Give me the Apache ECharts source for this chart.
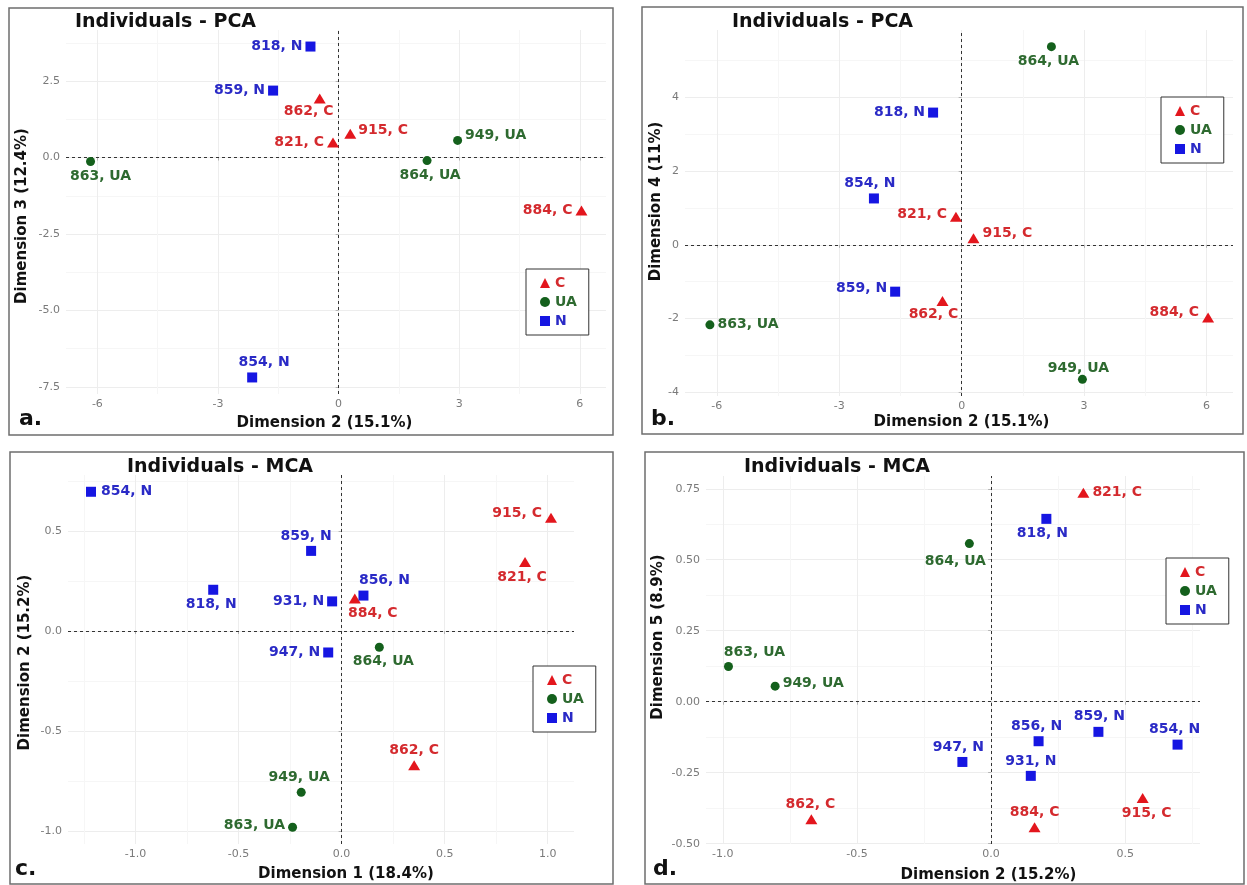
<!DOCTYPE html>
<html>
<head>
<meta charset="utf-8">
<script src="https://cdn.jsdelivr.net/npm/echarts@6/dist/echarts.min.js"></script>
<style>
html,body{margin:0;padding:0;background:#fff;}
#chart{width:1247px;height:885px;}
</style>
</head>
<body>
<div id="chart"></div>
<script>
// ---------------- DATA ----------------
const pcaIds   = ['818','821','854','859','862','863','864','884','915','949'];
const pcaGroup = ['N','C','N','N','C','UA','UA','C','C','UA'];
const pcaDim2  = [-0.70,-0.14,-2.15,-1.63,-0.47,-6.17, 2.20, 6.04, 0.29, 2.96];
const pcaDim3  = [ 3.63, 0.49,-7.19, 2.19, 1.93,-0.13,-0.10,-1.73, 0.78, 0.56];
const pcaDim4  = [ 3.59, 0.76, 1.26,-1.27,-1.52,-2.17, 5.38,-1.97, 0.18,-3.65];

const mcaIds   = ['818','821','854','856','859','862','863','864','884','915','931','947','949'];
const mcaGroup = ['N','C','N','N','N','C','UA','UA','C','C','N','N','UA'];
const mcaDim1  = [-0.623, 0.890,-1.216, 0.106,-0.148, 0.352,-0.238, 0.183, 0.064, 1.016,-0.046,-0.065,-0.196];
const mcaDim2  = [ 0.206, 0.344, 0.695, 0.177, 0.400,-0.670,-0.979,-0.081, 0.162, 0.565, 0.148,-0.107,-0.805];
const mcaDim5  = [ 0.644, 0.736,-0.151,-0.139,-0.106,-0.414, 0.124, 0.557,-0.442,-0.339,-0.261,-0.212, 0.055];

const groups = ['C','UA','N'];

// tick values (major / minor) per dimension
const pcaDim2Ticks = [-6,-3,0,3,6];
const pcaDim2Minor = [-4.5,-1.5,1.5,4.5];
const pcaDim3Ticks = [-7.5,-5,-2.5,0,2.5];
const pcaDim3Minor = [-6.25,-3.75,-1.25,1.25,3.75];
const pcaDim4Ticks = [-4,-2,0,2,4];
const pcaDim4Minor = [-3,-1,1,3,5];
const mcaDim1Ticks = [-1,-0.5,0,0.5,1];
const mcaDim1Minor = [-1.25,-0.75,-0.25,0.25,0.75];
const mcaDim2Ticks = [-1,-0.5,0,0.5];
const mcaDim2Minor = [-0.75,-0.25,0.25,0.75];
const mcaDim5Ticks = [-0.5,-0.25,0,0.25,0.5,0.75];
const mcaDim5Minor = [-0.375,-0.125,0.125,0.375,0.625];

// ---------------- STYLE / LAYOUT ----------------
const FONT = '"DejaVu Sans", sans-serif';
const markerColor = {C:'#e3161d', UA:'#14601c', N:'#1616e2'};
const textColor   = {C:'#d42a2e', UA:'#2e6a30', N:'#2a2ac6'};
const markerShape = {C:'triangle', UA:'circle', N:'rect'};
const markerSize  = {C:[12,10], UA:9, N:10};

// label placement per individual: [position, dx, dy]
const placeA = {'818':['left',0,0],'821':['left',0,0],'854':['top',12,0],'859':['left',0,0],'862':['bottom',-11,-2],
  '863':['bottom',10,0],'864':['bottom',3,0],'884':['left',0,0],'915':['right',-1,-3],'949':['right',0,-5]};
const placeB = {'818':['left',0,0],'821':['left',0,-3],'854':['top',-4,0],'859':['left',0,-3],'862':['bottom',-9,-2],
  '863':['right',0,0],'864':['bottom',-3,0],'884':['left',0,-5],'915':['right',0,-5],'949':['top',-4,3]};
const placeC = {'818':['bottom',-2,0],'821':['bottom',-3,0],'854':['right',2,0],'856':['top',21,0],'859':['top',-5,0],
  '862':['top',0,0],'863':['left',0,-2],'864':['bottom',4,0],'884':['bottom',18,0],'915':['left',0,-4],
  '931':['left',0,0],'947':['left',0,0],'949':['top',-2,0]};
const placeD = {'818':['bottom',-4,0],'821':['right',0,0],'854':['top',-3,0],'856':['top',-2,0],'859':['top',1,0],
  '862':['top',-1,0],'863':['top',26,0],'864':['bottom',-14,3],'884':['top',0,0],'915':['bottom',4,0],
  '931':['top',0,0],'947':['top',-4,0],'949':['right',0,-3]};

const panels = [
  {ids:pcaIds, grp:pcaGroup, x:pcaDim2, y:pcaDim3, xT:pcaDim2Ticks, xM:pcaDim2Minor, yT:pcaDim3Ticks, yM:pcaDim3Minor,
   xDec:0, yDec:1, xName:'Dimension 2 (15.1%)', yName:'Dimension 3 (12.4%)', title:'Individuals - PCA', letter:'a.',
   grid:{left:66, top:30, width:540, height:364}, place:placeA,
   xNameGap:22, xNamePad:[0,23,0,0], yNameGap:36, yNamePad:[0,8,0,0],
   titlePos:[75,13], legendPos:[526,269], letterPos:[19,419], frame:[9,8,604,427]},
  {ids:pcaIds, grp:pcaGroup, x:pcaDim2, y:pcaDim4, xT:pcaDim2Ticks, xM:pcaDim2Minor, yT:pcaDim4Ticks, yM:pcaDim4Minor,
   xDec:0, yDec:0, xName:'Dimension 2 (15.1%)', yName:'Dimension 4 (11%)', title:'Individuals - PCA', letter:'b.',
   grid:{left:685, top:30, width:548, height:366}, place:placeB,
   xNameGap:19, xNamePad:[0,0,0,5], yNameGap:21, yNamePad:[0,0,0,23],
   titlePos:[732,13], legendPos:[1161,97], letterPos:[651,419], frame:[642,7,601,427]},
  {ids:mcaIds, grp:mcaGroup, x:mcaDim1, y:mcaDim2, xT:mcaDim1Ticks, xM:mcaDim1Minor, yT:mcaDim2Ticks, yM:mcaDim2Minor,
   xDec:1, yDec:1, xName:'Dimension 1 (18.4%)', yName:'Dimension 2 (15.2%)', title:'Individuals - MCA', letter:'c.',
   grid:{left:68, top:475, width:506, height:369}, place:placeC,
   xNameGap:23, xNamePad:[0,0,0,50], yNameGap:35, yNamePad:[0,6,0,0],
   titlePos:[127,458], legendPos:[533,666], letterPos:[15,869], frame:[10,452,603,432]},
  {ids:mcaIds, grp:mcaGroup, x:mcaDim2, y:mcaDim5, xT:mcaDim2Ticks, xM:mcaDim2Minor, yT:mcaDim5Ticks, yM:mcaDim5Minor,
   xDec:1, yDec:2, xName:'Dimension 2 (15.2%)', yName:'Dimension 5 (8.9%)', title:'Individuals - MCA', letter:'d.',
   grid:{left:706, top:476, width:494, height:368}, place:placeD,
   xNameGap:24, xNamePad:[0,0,0,71], yNameGap:40, yNamePad:[0,0,0,46],
   titlePos:[744,458], legendPos:[1166,558], letterPos:[653,869], frame:[645,452,599,432]}
];

function expand(arr){
  const lo = Math.min(...arr), hi = Math.max(...arr), r = hi - lo;
  return [lo - 0.05*r, hi + 0.05*r];
}

const option = {
  animation:false,
  backgroundColor:'#fff',
  title:[], legend:[], grid:[], xAxis:[], yAxis:[], series:[], graphic:[]
};

const tickLabelStyle = {color:'#7a7a7a', fontSize:11, fontFamily:FONT};
const nameStyle = {fontFamily:FONT, fontWeight:'bold', fontSize:15, color:'#111'};

panels.forEach((p, i) => {
  option.grid.push(Object.assign({containLabel:false}, p.grid));
  const xr = expand(p.x), yr = expand(p.y);

  option.xAxis.push({
    type:'value', gridIndex:i, min:xr[0], max:xr[1], position:'bottom',
    axisLine:{show:false},
    axisTick:{show:true, length:3, lineStyle:{color:'#b5b5b5'}, customValues:p.xT},
    axisLabel:Object.assign({customValues:p.xT, margin:5, formatter:v => Number(v).toFixed(p.xDec)}, tickLabelStyle),
    splitLine:{show:true, lineStyle:{color:'#ededed', width:1}},
    name:p.xName, nameLocation:'middle', nameGap:p.xNameGap,
    nameTextStyle:Object.assign({padding:p.xNamePad}, nameStyle)
  });
  option.xAxis.push({
    type:'value', gridIndex:i, min:xr[0], max:xr[1], position:'top',
    axisLine:{show:false}, axisTick:{show:false, customValues:p.xM},
    axisLabel:{show:false, customValues:p.xM},
    splitLine:{show:true, lineStyle:{color:'#f6f6f6', width:1}}
  });
  option.yAxis.push({
    type:'value', gridIndex:i, min:yr[0], max:yr[1], position:'left',
    axisLine:{show:false},
    axisTick:{show:true, length:3, lineStyle:{color:'#b5b5b5'}, customValues:p.yT},
    axisLabel:Object.assign({customValues:p.yT, margin:6, formatter:v => Number(v).toFixed(p.yDec)}, tickLabelStyle),
    splitLine:{show:true, lineStyle:{color:'#ededed', width:1}},
    name:p.yName, nameLocation:'middle', nameGap:p.yNameGap, nameRotate:90,
    nameTextStyle:Object.assign({padding:p.yNamePad}, nameStyle)
  });
  option.yAxis.push({
    type:'value', gridIndex:i, min:yr[0], max:yr[1], position:'right',
    axisLine:{show:false}, axisTick:{show:false, customValues:p.yM},
    axisLabel:{show:false, customValues:p.yM},
    splitLine:{show:true, lineStyle:{color:'#f6f6f6', width:1}}
  });

  groups.forEach((g, gi) => {
    const data = [];
    const shifts = [];
    p.ids.forEach((id, k) => {
      if (p.grp[k] !== g) return;
      const pl = p.place[id] || ['right',0,0];
      data.push({name:id, value:[p.x[k], p.y[k]], label:{position:pl[0]}});
      shifts.push([pl[1], pl[2]]);
    });
    const s = {
      type:'scatter', name:g, xAxisIndex:2*i, yAxisIndex:2*i,
      symbol:markerShape[g], symbolSize:markerSize[g],
      itemStyle:{color:markerColor[g], opacity:1},
      label:{show:true, distance:3, formatter:prm => prm.name + ', ' + g,
             color:textColor[g], fontFamily:FONT, fontWeight:'bold', fontSize:14},
      labelLayout:(prm) => {
        const sh = shifts[prm.dataIndex] || [0,0];
        return {dx:sh[0], dy:sh[1], hideOverlap:false};
      },
      emphasis:{disabled:true},
      data:data, z:3
    };
    if (gi === 0) {
      s.markLine = {
        silent:true, symbol:['none','none'], label:{show:false},
        lineStyle:{type:[3,3], color:'#333', width:1},
        data:[{xAxis:0},{yAxis:0}], z:2
      };
    }
    option.series.push(s);
  });

  option.title.push({
    text:p.title, left:p.titlePos[0], top:p.titlePos[1], padding:0,
    textStyle:{fontFamily:FONT, fontWeight:'bold', fontSize:19, color:'#111'}
  });

  option.legend.push({
    orient:'vertical', left:p.legendPos[0], top:p.legendPos[1],
    padding:[7,12,7,14], itemGap:5, itemWidth:10, itemHeight:10, itemTextGap:6,
    borderColor:'#333', borderWidth:1, backgroundColor:'#fff', selectedMode:false,
    textStyle:{fontFamily:FONT, fontWeight:'bold', fontSize:14},
    data:groups.map(g => ({name:g, icon:markerShape[g], textStyle:{color:textColor[g]}}))
  });

  option.graphic.push({
    type:'rect', silent:true, z:100,
    shape:{x:p.frame[0], y:p.frame[1], width:p.frame[2], height:p.frame[3]},
    style:{fill:'none', stroke:'#6e6e6e', lineWidth:1.5}
  });
  option.graphic.push({
    type:'text', silent:true, z:100, x:p.letterPos[0], y:p.letterPos[1],
    style:{text:p.letter, font:'bold 22px "DejaVu Sans", sans-serif', fill:'#111',
           textAlign:'left', textVerticalAlign:'middle'}
  });
});

const chart = echarts.init(document.getElementById('chart'), null, {renderer:'canvas'});
chart.setOption(option);
</script>
</body>
</html>
